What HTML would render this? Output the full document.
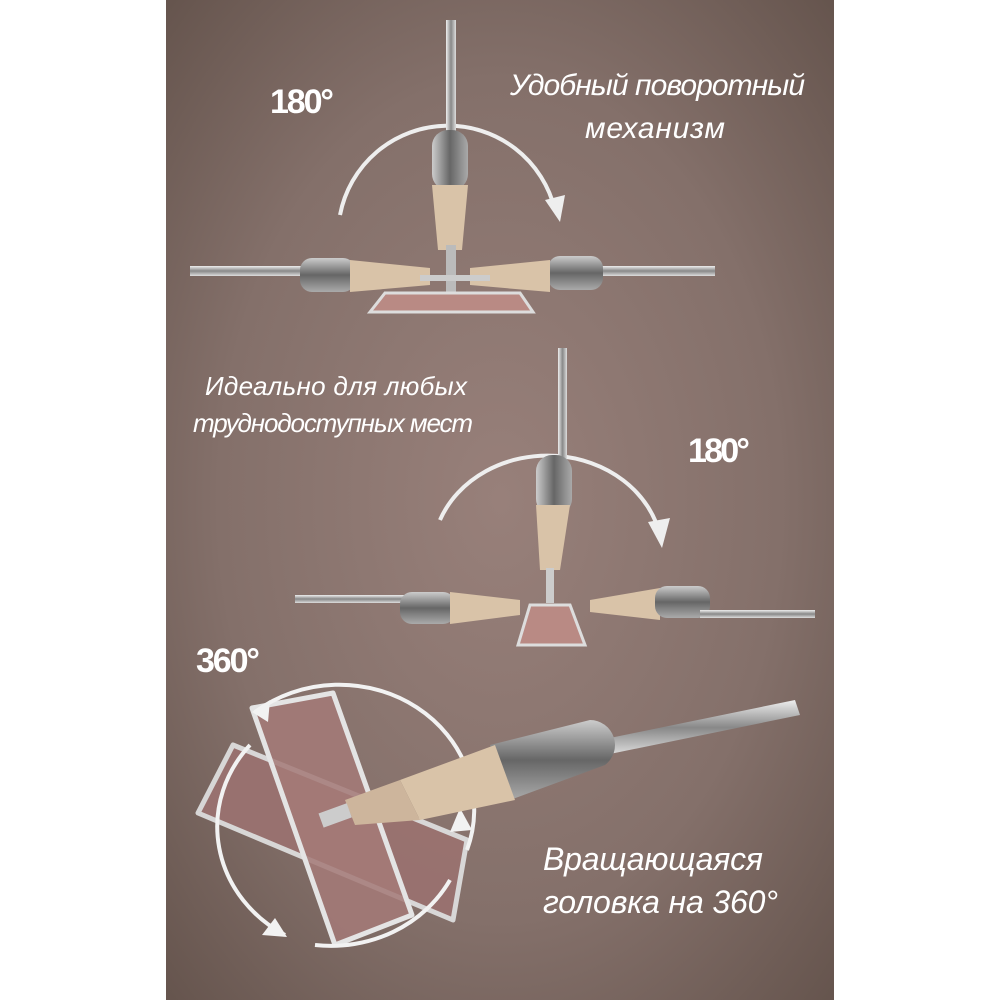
<!DOCTYPE html>
<html><head><meta charset="utf-8"><style>
html,body{margin:0;padding:0;background:#fff}
svg{display:block}
text{font-family:"Liberation Sans",sans-serif;fill:#fff}
</style></head><body>
<svg width="1000" height="1000" viewBox="0 0 1000 1000" xmlns="http://www.w3.org/2000/svg">
<defs>
<radialGradient id="bg" cx="0.5" cy="0.5" r="0.7">
<stop offset="0" stop-color="#98807a"/><stop offset="0.6" stop-color="#84706a"/><stop offset="1" stop-color="#66554e"/>
</radialGradient>
<linearGradient id="met" x1="0" y1="0" x2="0" y2="1"><stop offset="0" stop-color="#eee"/><stop offset="0.5" stop-color="#888"/><stop offset="1" stop-color="#ddd"/></linearGradient>
<linearGradient id="metv" x1="0" y1="0" x2="1" y2="0"><stop offset="0" stop-color="#eee"/><stop offset="0.5" stop-color="#888"/><stop offset="1" stop-color="#ddd"/></linearGradient>
<linearGradient id="tank" x1="0" y1="0" x2="0" y2="1"><stop offset="0" stop-color="#ccc"/><stop offset="0.5" stop-color="#666"/><stop offset="1" stop-color="#aaa"/></linearGradient>
<linearGradient id="tankv" x1="0" y1="0" x2="1" y2="0"><stop offset="0" stop-color="#ccc"/><stop offset="0.5" stop-color="#666"/><stop offset="1" stop-color="#aaa"/></linearGradient>
</defs>
<rect x="166" y="0" width="668" height="1000" fill="url(#bg)"/>

<!-- top mop -->
<g>
<path d="M340 215 A110 110 0 0 1 555 210" fill="none" stroke="#eee" stroke-width="4"/>
<path d="M545 200 L560 222 L565 195 Z" fill="#eee"/>
<rect x="446" y="20" width="10" height="120" fill="url(#metv)"/>
<rect x="432" y="130" width="36" height="60" rx="16" fill="url(#tankv)"/>
<path d="M432 185 L468 185 L462 250 L438 250 Z" fill="#d9c3a8"/>
<rect x="446" y="245" width="10" height="50" fill="#bbb"/>
<rect x="190" y="266" width="120" height="10" fill="url(#met)"/>
<rect x="300" y="258" width="55" height="34" rx="12" fill="url(#tank)"/>
<path d="M350 260 L430 268 L430 285 L350 292 Z" fill="#d9c3a8"/>
<rect x="600" y="266" width="115" height="10" fill="url(#met)"/>
<rect x="548" y="256" width="55" height="34" rx="12" fill="url(#tank)"/>
<path d="M470 268 L550 260 L550 292 L470 285 Z" fill="#d9c3a8"/>
<rect x="420" y="275" width="70" height="6" fill="#ccc"/>
<path d="M370 312 L385 293 L520 293 L533 312 Z" fill="#b98a84" stroke="#ddd" stroke-width="3"/>
</g>

<!-- middle mop -->
<g>
<path d="M440 520 A115 100 0 0 1 660 535" fill="none" stroke="#eee" stroke-width="4"/>
<path d="M648 522 L662 548 L670 518 Z" fill="#eee"/>
<rect x="558" y="348" width="9" height="120" fill="url(#metv)"/>
<rect x="536" y="455" width="36" height="60" rx="16" fill="url(#tankv)"/>
<path d="M536 505 L570 505 L560 570 L540 570 Z" fill="#d9c3a8"/>
<rect x="546" y="568" width="8" height="35" fill="#ccc"/>
<rect x="295" y="595" width="115" height="8" fill="url(#met)"/>
<rect x="400" y="592" width="55" height="32" rx="12" fill="url(#tank)"/>
<path d="M450 592 L520 600 L520 615 L450 624 Z" fill="#d9c3a8"/>
<path d="M590 600 L660 588 L660 620 L590 612 Z" fill="#d9c3a8"/>
<rect x="655" y="586" width="55" height="32" rx="12" fill="url(#tank)"/>
<rect x="700" y="610" width="115" height="8" fill="url(#met)"/>
<path d="M518 645 L530 605 L570 605 L585 645 Z" fill="#b98a84" stroke="#ddd" stroke-width="3"/>
</g>

<!-- bottom mop -->
<g>
<path d="M233 745 L198 813 L453 920 L467 840 Z" fill="#9a7270" stroke="#ddd" stroke-width="5" stroke-linejoin="round" opacity="0.95"/>
<path d="M252 708 L333 693 L412 915 L335 945 Z" fill="#a47a78" fill-opacity="0.85" stroke="#e4e4e4" stroke-width="5" stroke-linejoin="round"/>
<path d="M255 712 A135 125 0 0 1 467 850" fill="none" stroke="#f2f2f2" stroke-width="4"/>
<path d="M450 880 A135 125 0 0 1 315 945" fill="none" stroke="#f2f2f2" stroke-width="4"/>
<path d="M250 745 A135 125 0 0 0 285 935" fill="none" stroke="#f2f2f2" stroke-width="4"/>
<path d="M252 712 L270 700 L268 722 Z" fill="#f2f2f2"/>
<path d="M287 937 L262 935 L275 918 Z" fill="#f2f2f2"/>
<path d="M460 808 L450 832 L472 830 Z" fill="#f2f2f2"/>
<path d="M600 740 L795 700 L800 715 L605 755 Z" fill="url(#met)"/>
<path d="M490 745 L590 720 A25 25 0 0 1 605 765 L510 800 Z" fill="url(#tank)"/>
<path d="M400 780 L495 745 L515 800 L420 820 Z" fill="#d9c3a8"/>
<path d="M345 800 L400 780 L420 820 L355 825 Z" fill="#cdb59c"/>
<rect x="320" y="808" width="30" height="15" fill="#ccc" transform="rotate(-20 335 815)"/>
</g>

<text x="270" y="113" font-size="34" font-weight="bold" textLength="64">180°</text>
<text x="510" y="95" font-size="30" font-style="italic" textLength="295">Удобный поворотный</text>
<text x="585" y="138" font-size="30" font-style="italic" textLength="140">механизм</text>
<text x="205" y="395" font-size="26" font-style="italic" textLength="262">Идеально для любых</text>
<text x="193" y="432" font-size="26" font-style="italic" textLength="280">труднодоступных мест</text>
<text x="688" y="462" font-size="34" font-weight="bold" textLength="62">180°</text>
<text x="196" y="672" font-size="34" font-weight="bold" textLength="64">360°</text>
<text x="543" y="870" font-size="32" font-style="italic" textLength="220">Вращающаяся</text>
<text x="543" y="913" font-size="32" font-style="italic" textLength="235">головка на 360°</text>
</svg>
</body></html>
